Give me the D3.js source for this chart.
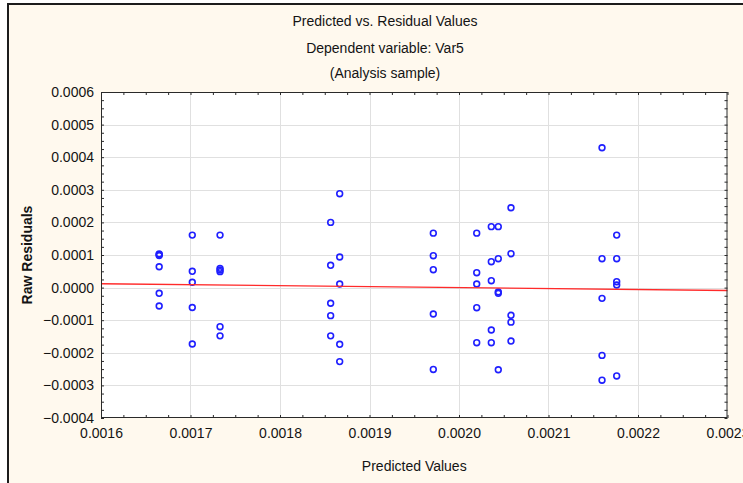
<!DOCTYPE html>
<html>
<head>
<meta charset="utf-8">
<script src="https://cdn.jsdelivr.net/npm/d3@7/dist/d3.min.js"></script>
<style>
  html, body { margin: 0; padding: 0; background: #ffffff; }
  svg { display: block; }
  text { font-family: "Liberation Sans", Arial, sans-serif; fill: #141414; }
</style>
</head>
<body>
<svg id="chart" width="743" height="483"></svg>
<script>
// Residual plot: predicted values (x) against raw residuals (y)
const titleLines = ["Predicted vs. Residual Values", "Dependent variable: Var5", "(Analysis sample)"];
const xLabel = "Predicted Values";
const yLabel = "Raw Residuals";

const xTicks = [0.0016, 0.0017, 0.0018, 0.0019, 0.0020, 0.0021, 0.0022, 0.0023];
const yTicks = [-0.0004, -0.0003, -0.0002, -0.0001, 0.0000, 0.0001, 0.0002, 0.0003, 0.0004, 0.0005, 0.0006];

const predicted = [
  0.001665, 0.001665, 0.001665, 0.001665, 0.001665, 0.001665,
  0.001702, 0.001702, 0.001702, 0.001702, 0.001702,
  0.001733, 0.001733, 0.001733, 0.001733, 0.001733, 0.001733,
  0.0018566, 0.0018566, 0.0018566, 0.0018566, 0.0018566,
  0.0018667, 0.0018667, 0.0018667, 0.0018667, 0.0018667,
  0.0019713, 0.0019713, 0.0019713, 0.0019713, 0.0019713,
  0.0020198, 0.0020198, 0.0020198, 0.0020198, 0.0020198,
  0.0020361, 0.0020361, 0.0020361, 0.0020361, 0.0020361,
  0.0020439, 0.0020439, 0.0020439, 0.0020439, 0.0020439,
  0.0020581, 0.0020581, 0.0020581, 0.0020581, 0.0020581,
  0.0021598, 0.0021598, 0.0021598, 0.0021598, 0.0021598,
  0.0021762, 0.0021762, 0.0021762, 0.0021762, 0.0021762
];
const residuals = [
  0.000103, 0.0000985, 0.000064, -0.0000175, -0.0000564, 0.000101,
  0.000161, 0.000050, 0.0000163, -0.000061, -0.000173,
  0.000161, 0.000059, 0.000049, 0.000054, -0.000120, -0.000148,
  0.000200, 0.0000684, -0.000048, -0.000086, -0.000148,
  0.000288, 0.0000939, 0.000011, -0.000174, -0.000227,
  0.000167, 0.0000979, 0.0000549, -0.000081, -0.000251,
  0.000167, 0.0000457, 0.000011, -0.0000617, -0.000169,
  0.000187, 0.0000794, 0.0000212, -0.000130, -0.000169,
  0.000187, 0.0000887, -0.0000135, -0.0000175, -0.000252,
  0.000245, 0.000104, -0.000085, -0.000106, -0.000164,
  0.000429, 0.0000887, -0.0000329, -0.000208, -0.000284,
  0.000161, 0.0000887, 0.0000181, 0.000008, -0.000271
];
// fitted line through the residuals, at the ends of the x range
const fitX = [0.0016, 0.0023];
const fitY = [0.000012, -0.0000088];

const svg = d3.select("#chart");
const plot = { left: 101, right: 727.5, top: 92, bottom: 418 };

// outer window frame
svg.append("rect").attr("x", 8).attr("y", 4).attr("width", 800).attr("height", 600)
  .attr("fill", "#fff9ee").attr("stroke", "#1c1c1c").attr("stroke-width", 2);

const x = d3.scaleLinear().domain([0.0016, 0.0023]).range([plot.left, plot.right]);
const y = d3.scaleLinear().domain([-0.0004, 0.0006]).range([plot.bottom, plot.top]);

// titles
const titleY = [26, 53, 78];
titleLines.forEach((t, i) => {
  svg.append("text").attr("x", 385).attr("y", titleY[i])
    .attr("text-anchor", "middle").attr("font-size", 14).text(t);
});

// plot background
svg.append("rect").attr("x", plot.left).attr("y", plot.top)
  .attr("width", plot.right - plot.left).attr("height", plot.bottom - plot.top)
  .attr("fill", "#ffffff");

// grid
const grid = svg.append("g").attr("stroke", "#e0e0e0").attr("stroke-width", 1);
grid.selectAll("line.gx").data(xTicks.slice(1, -1)).join("line")
  .attr("x1", d => Math.round(x(d)) + 0.5).attr("x2", d => Math.round(x(d)) + 0.5)
  .attr("y1", plot.top).attr("y2", plot.bottom);
grid.selectAll("line.gy").data(yTicks.slice(1, -1)).join("line")
  .attr("y1", d => Math.round(y(d)) + 0.5).attr("y2", d => Math.round(y(d)) + 0.5)
  .attr("x1", plot.left).attr("x2", plot.right);

// residual points
const pts = predicted.map((p, i) => ({ p, r: residuals[i] }));
svg.append("g").selectAll("circle").data(pts).join("circle")
  .attr("cx", d => x(d.p)).attr("cy", d => y(d.r)).attr("r", 2.9)
  .attr("fill", "none").attr("stroke", "#1f1fff").attr("stroke-width", 1.6);

// fitted line
svg.append("line")
  .attr("x1", x(fitX[0])).attr("y1", y(fitY[0]))
  .attr("x2", x(fitX[1])).attr("y2", y(fitY[1]))
  .attr("stroke", "#ff2a2a").attr("stroke-width", 1.4);

// frame of the plot area
svg.append("rect").attr("x", plot.left + 0.5).attr("y", plot.top + 0.5)
  .attr("width", plot.right - plot.left - 1).attr("height", plot.bottom - plot.top - 1)
  .attr("fill", "none").attr("stroke", "#2a2a2a").attr("stroke-width", 1);

// inward ticks on all four sides, four sub-intervals per major step
const xMinor = d3.range(0, 29).map(i => 0.0016 + i * 0.000025);
const yMinor = d3.range(0, 41).map(i => -0.0004 + i * 0.000025);
const tickLen = 3;

svg.append("g").attr("transform", `translate(0,${plot.bottom})`)
  .call(d3.axisTop(x).tickValues(xMinor).tickSize(tickLen).tickFormat(""))
  .call(g => g.select(".domain").remove());
svg.append("g").attr("transform", `translate(0,${plot.top})`)
  .call(d3.axisBottom(x).tickValues(xMinor).tickSize(tickLen).tickFormat(""))
  .call(g => g.select(".domain").remove());
svg.append("g").attr("transform", `translate(${plot.left},0)`)
  .call(d3.axisRight(y).tickValues(yMinor).tickSize(tickLen).tickFormat(""))
  .call(g => g.select(".domain").remove());
svg.append("g").attr("transform", `translate(${plot.right},0)`)
  .call(d3.axisLeft(y).tickValues(yMinor).tickSize(tickLen).tickFormat(""))
  .call(g => g.select(".domain").remove());
svg.selectAll(".tick line").attr("stroke", "#2a2a2a");

// tick labels
const fmt = d3.format(".4f");
const xAxis = svg.append("g").attr("transform", `translate(0,${plot.bottom})`)
  .call(d3.axisBottom(x).tickValues(xTicks).tickSize(0).tickPadding(10).tickFormat(fmt));
xAxis.select(".domain").remove();
xAxis.selectAll("text").attr("font-size", 14).attr("font-family", "Liberation Sans, Arial, sans-serif").attr("fill", "#141414");

const yAxis = svg.append("g").attr("transform", `translate(${plot.left},0)`)
  .call(d3.axisLeft(y).tickValues(yTicks).tickSize(0).tickPadding(7).tickFormat(fmt));
yAxis.select(".domain").remove();
yAxis.selectAll("text").attr("font-size", 14).attr("font-family", "Liberation Sans, Arial, sans-serif").attr("fill", "#141414");

// axis titles
svg.append("text").attr("x", (plot.left + plot.right) / 2).attr("y", 471)
  .attr("text-anchor", "middle").attr("font-size", 14).text(xLabel);
svg.append("text")
  .attr("transform", `translate(32,${(plot.top + plot.bottom) / 2}) rotate(-90)`)
  .attr("text-anchor", "middle").attr("font-size", 14).attr("font-weight", "bold").text(yLabel);
</script>
</body>
</html>
